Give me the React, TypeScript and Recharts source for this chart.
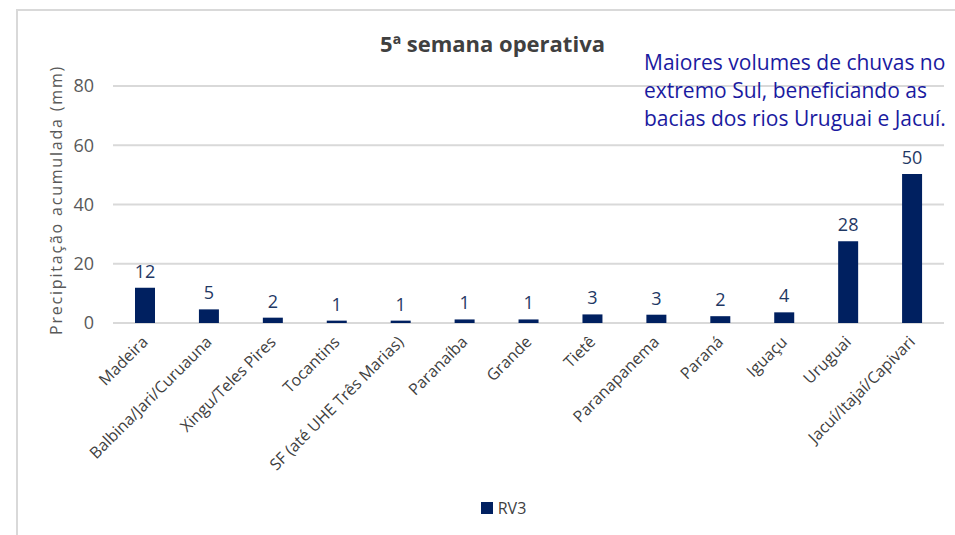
import { Bar, BarChart, CartesianGrid, LabelList, Legend, XAxis, YAxis } from 'recharts'

const bacias = [
  'Madeira',
  'Balbina/Jari/Curuauna',
  'Xingu/Teles Pires',
  'Tocantins',
  'SF (até UHE Três Marias)',
  'Paranaíba',
  'Grande',
  'Tietê',
  'Paranapanema',
  'Paraná',
  'Iguaçu',
  'Uruguai',
  'Jacuí/Itajaí/Capivari',
]

const rv3 = [11.9, 4.6, 1.8, 0.8, 0.8, 1.2, 1.2, 2.9, 2.8, 2.3, 3.6, 27.6, 50.3]

const yTicks = [0, 20, 40, 60, 80]

const data = bacias.map((bacia, i) => ({ bacia, rv3: rv3[i] }))

const font = '"Open Sans", "Liberation Sans", sans-serif'

function BaciaTick(props: any) {
  const { x, y, payload } = props
  return (
    <g transform={`translate(${x + 4},${y + 12}) rotate(-45)`}>
      <text textAnchor="end" fontSize={16} fill="#404040" fontFamily={font}>
        {payload.value}
      </text>
    </g>
  )
}

function LegendBox() {
  return (
    <div
      style={{
        display: 'flex',
        justifyContent: 'center',
        alignItems: 'center',
        fontFamily: font,
        fontSize: 16,
        color: '#404040',
      }}
    >
      <span
        style={{
          display: 'inline-block',
          width: 12,
          height: 12,
          background: '#002060',
          marginRight: 5,
        }}
      />
      RV3
    </div>
  )
}

export default function App() {
  return (
    <div
      style={{
        position: 'absolute',
        left: 0,
        top: 0,
        width: 955,
        height: 535,
        background: '#fff',
        overflow: 'hidden',
        fontFamily: font,
      }}
    >
      <div
        style={{
          position: 'absolute',
          left: 16,
          top: 9,
          width: 960,
          height: 560,
          border: '2px solid #d9d9d9',
        }}
      />
      <BarChart
        width={955}
        height={535}
        data={data}
        margin={{ top: 86, right: 11, left: 63, bottom: 6 }}
      >
        <CartesianGrid vertical={false} stroke="#d9d9d9" strokeWidth={2} />
        <XAxis
          dataKey="bacia"
          interval={0}
          axisLine={false}
          tickLine={false}
          height={174}
          tick={<BaciaTick />}
        />
        <YAxis
          domain={[0, 80]}
          ticks={yTicks}
          width={50}
          axisLine={false}
          tickLine={false}
          tickSize={0}
          tickMargin={19}
          tick={{ fontSize: 18, fill: '#595959', fontFamily: font }}
        />
        <Legend verticalAlign="bottom" height={32} content={<LegendBox />} />
        <Bar dataKey="rv3" name="RV3" fill="#002060" barSize={20} isAnimationActive={false}>
          <LabelList
            dataKey="rv3"
            position="top"
            offset={10}
            formatter={(v: any) => Math.round(Number(v))}
            style={{ fontSize: 18, fill: '#1f3864', fontFamily: font }}
          />
        </Bar>
      </BarChart>
      <div
        style={{
          position: 'absolute',
          left: 0,
          width: 985,
          top: 28,
          textAlign: 'center',
          fontWeight: 700,
          fontSize: 22,
          color: '#404040',
        }}
      >
        5ª semana operativa
      </div>
      <div
        style={{
          position: 'absolute',
          left: 644,
          top: 48,
          fontSize: 21,
          lineHeight: '28px',
          color: '#1a1aa0',
          whiteSpace: 'nowrap',
        }}
      >
        Maiores volumes de chuvas no
        <br />
        extremo Sul, beneficiando as
        <br />
        bacias dos rios Uruguai e Jacuí.
      </div>
      <div
        style={{
          position: 'absolute',
          left: 56,
          top: 200,
          transform: 'translate(-50%, -50%) rotate(-90deg)',
          fontSize: 16,
          letterSpacing: 1.8,
          color: '#595959',
          whiteSpace: 'nowrap',
        }}
      >
        Precipitação acumulada (mm)
      </div>
    </div>
  )
}
